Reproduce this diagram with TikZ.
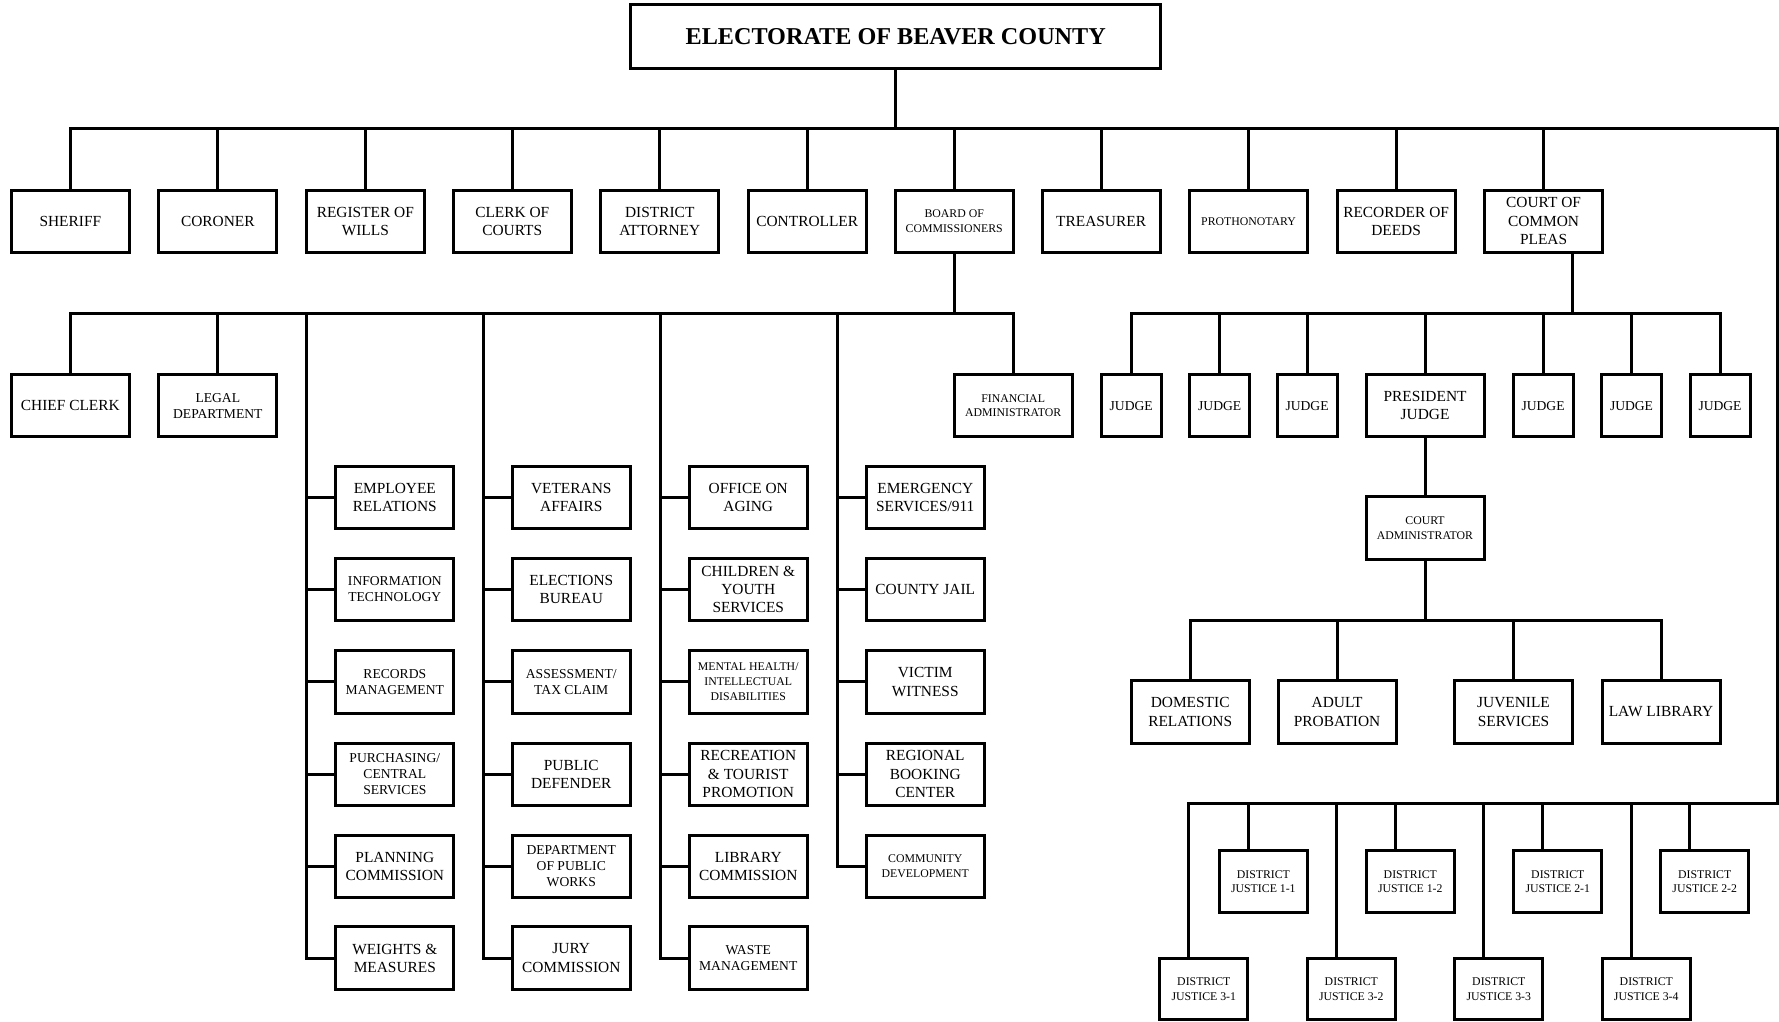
\documentclass[tikz,border=0pt]{standalone}
\usepackage{fontspec}
\setmainfont{Liberation Serif}
\usetikzlibrary{calc}

\begin{document}
\begin{tikzpicture}[x=0.5673pt,y=-0.5673pt,line width=1.5pt,
		unit/.style={draw,line width=1.5pt,inner sep=0pt,minimum width=59pt,minimum height=31.2pt,align=center,font=\fontsize{7.7}{9.2}\selectfont},
		midtext/.style={font=\fontsize{6.8}{8}\selectfont},
		tinytext/.style={font=\fontsize{5.9}{7.4}\selectfont},
		judge/.style={unit,midtext,minimum width=30pt},
		justice/.style={unit,tinytext,minimum width=44.2pt,minimum height=30.6pt}]
				\useasboundingbox (0,0) rectangle (1568,900);
				\node[unit,minimum width=265pt,minimum height=31.8pt,font=\bfseries\fontsize{12.1}{14}\selectfont] (title) at (789.5,32) {ELECTORATE OF BEAVER COUNTY};
				\node[unit] (sheriff) at (62,195) {SHERIFF};
				\node[unit] (coroner) at (192,195) {CORONER};
				\node[unit] (wills) at (322,195) {REGISTER OF\\WILLS};
				\node[unit] (clerk) at (451.5,195) {CLERK OF\\COURTS};
				\node[unit] (da) at (581.5,195) {DISTRICT\\ATTORNEY};
				\node[unit] (ctrl) at (711.5,195) {CONTROLLER};
				\node[unit,tinytext] (board) at (841,195) {BOARD OF\\COMMISSIONERS};
				\node[unit] (treas) at (970.5,195) {TREASURER};
				\node[unit,tinytext] (proth) at (1100.5,195) {PROTHONOTARY};
				\node[unit] (deeds) at (1230.5,195) {RECORDER OF\\DEEDS};
				\node[unit] (ccp) at (1360.5,195) {COURT OF\\COMMON\\PLEAS};
				\node[unit] (chief) at (62,357.5) {CHIEF CLERK};
				\node[unit,midtext] (legal) at (192,357.5) {LEGAL\\DEPARTMENT};
				\node[unit,tinytext] (fin) at (893,357.5) {FINANCIAL\\ADMINISTRATOR};
				\node[unit] (emp) at (348,438.5) {EMPLOYEE\\RELATIONS};
				\node[unit,midtext] (it) at (348,519.5) {INFORMATION\\TECHNOLOGY};
				\node[unit,midtext] (rec) at (348,601) {RECORDS\\MANAGEMENT};
				\node[unit,midtext] (purch) at (348,682.5) {PURCHASING/\\CENTRAL\\SERVICES};
				\node[unit] (plan) at (348,763.5) {PLANNING\\COMMISSION};
				\node[unit] (wts) at (348,844.5) {WEIGHTS \&\\MEASURES};
				\node[unit] (vet) at (503.5,438.5) {VETERANS\\AFFAIRS};
				\node[unit] (elec) at (503.5,519.5) {ELECTIONS\\BUREAU};
				\node[unit,midtext] (assess) at (503.5,601) {ASSESSMENT/\\TAX CLAIM};
				\node[unit] (pd) at (503.5,682.5) {PUBLIC\\DEFENDER};
				\node[unit,midtext] (dpw) at (503.5,763.5) {DEPARTMENT\\OF PUBLIC\\WORKS};
				\node[unit] (jury) at (503.5,844.5) {JURY\\COMMISSION};
				\node[unit] (aging) at (659.5,438.5) {OFFICE ON\\AGING};
				\node[unit] (cys) at (659.5,519.5) {CHILDREN \&\\YOUTH\\SERVICES};
				\node[unit,tinytext] (mh) at (659.5,601) {MENTAL HEALTH/\\INTELLECTUAL\\DISABILITIES};
				\node[unit] (rtp) at (659.5,682.5) {RECREATION\\\& TOURIST\\PROMOTION};
				\node[unit] (lib) at (659.5,763.5) {LIBRARY\\COMMISSION};
				\node[unit,midtext] (waste) at (659.5,844.5) {WASTE\\MANAGEMENT};
				\node[unit] (ems) at (815.5,438.5) {EMERGENCY\\SERVICES/911};
				\node[unit] (jail) at (815.5,519.5) {COUNTY JAIL};
				\node[unit] (victim) at (815.5,601) {VICTIM\\WITNESS};
				\node[unit] (rbc) at (815.5,682.5) {REGIONAL\\BOOKING\\CENTER};
				\node[unit,tinytext] (cd) at (815.5,763.5) {COMMUNITY\\DEVELOPMENT};
				\node[judge] (j1) at (997,357.5) {JUDGE};
				\node[judge] (j2) at (1075,357.5) {JUDGE};
				\node[judge] (j3) at (1152,357.5) {JUDGE};
				\node[unit] (pj) at (1256,357.5) {PRESIDENT\\JUDGE};
				\node[judge] (j4) at (1360,357.5) {JUDGE};
				\node[judge] (j5) at (1438,357.5) {JUDGE};
				\node[judge] (j6) at (1516,357.5) {JUDGE};
				\node[unit,tinytext] (cadm) at (1256,465.5) {COURT\\ADMINISTRATOR};
				\node[unit] (dom) at (1049,627.5) {DOMESTIC\\RELATIONS};
				\node[unit] (adult) at (1178.5,627.5) {ADULT\\PROBATION};
				\node[unit] (juv) at (1334,627.5) {JUVENILE\\SERVICES};
				\node[unit] (law) at (1464,627.5) {LAW LIBRARY};
				\node[justice] (dj11) at (1113.5,777) {DISTRICT\\JUSTICE 1-1};
				\node[justice] (dj12) at (1243,777) {DISTRICT\\JUSTICE 1-2};
				\node[justice] (dj21) at (1373,777) {DISTRICT\\JUSTICE 2-1};
				\node[justice] (dj22) at (1502.5,777) {DISTRICT\\JUSTICE 2-2};
				\node[justice] (dj31) at (1061,872) {DISTRICT\\JUSTICE 3-1};
				\node[justice] (dj32) at (1191,872) {DISTRICT\\JUSTICE 3-2};
				\node[justice] (dj33) at (1321,872) {DISTRICT\\JUSTICE 3-3};
				\node[justice] (dj34) at (1451,872) {DISTRICT\\JUSTICE 3-4};
				\coordinate (topbus) at (789.5,113);
				\coordinate (tr) at (1567,113);
				\coordinate (br) at (1567,708);
				\coordinate (bbus) at (841,276);
				\coordinate (jbus) at (1386,276);
				\coordinate (abus) at (1256,547);
				\coordinate (col1) at (270,276);
				\coordinate (col2) at (426,276);
				\coordinate (col3) at (582,276);
				\coordinate (col4) at (738,276);
				\draw (title.south) -- (topbus);
				\draw (sheriff.north) |- (tr) -- (br) -| ($(dj31.north west)!1/3!(dj31.north east)$);
				\foreach \n in {coroner,wills,clerk,da,ctrl,board,treas,proth,deeds,ccp}
					\draw (\n.north) -- (\n.north |- topbus);
				\draw (board.south) -- (bbus);
				\draw (chief.north) |- (bbus) -| (fin.north);
				\draw (legal.north) -- (legal.north |- bbus);
				\draw (col1) |- (wts.west);
				\draw (col2) |- (jury.west);
				\draw (col3) |- (waste.west);
				\draw (col4) |- (cd.west);
				\foreach \n/\c in {emp/col1,it/col1,rec/col1,purch/col1,plan/col1,vet/col2,elec/col2,assess/col2,pd/col2,dpw/col2,aging/col3,cys/col3,mh/col3,rtp/col3,lib/col3,ems/col4,jail/col4,victim/col4,rbc/col4}
					\draw (\n.west) -- (\n.west -| \c);
				\draw (jbus |- ccp.south) -- (jbus);
				\draw (j1.north) |- (jbus) -| (j6.north);
				\foreach \n in {j2,j3,pj,j4,j5}
					\draw (\n.north) -- (\n.north |- jbus);
				\draw (pj.south) -- (cadm.north);
				\draw (cadm.south) -- (abus);
				\draw (dom.north) |- (abus) -| (law.north);
				\draw (adult.north) -- (adult.north |- abus);
				\draw (juv.north) -- (juv.north |- abus);
				\foreach \n in {dj11,dj12,dj21,dj22,dj32,dj33,dj34}
					\draw ($(\n.north west)!1/3!(\n.north east)$) coordinate (a) -- (a |- br);
			\end{tikzpicture}
\end{document}
